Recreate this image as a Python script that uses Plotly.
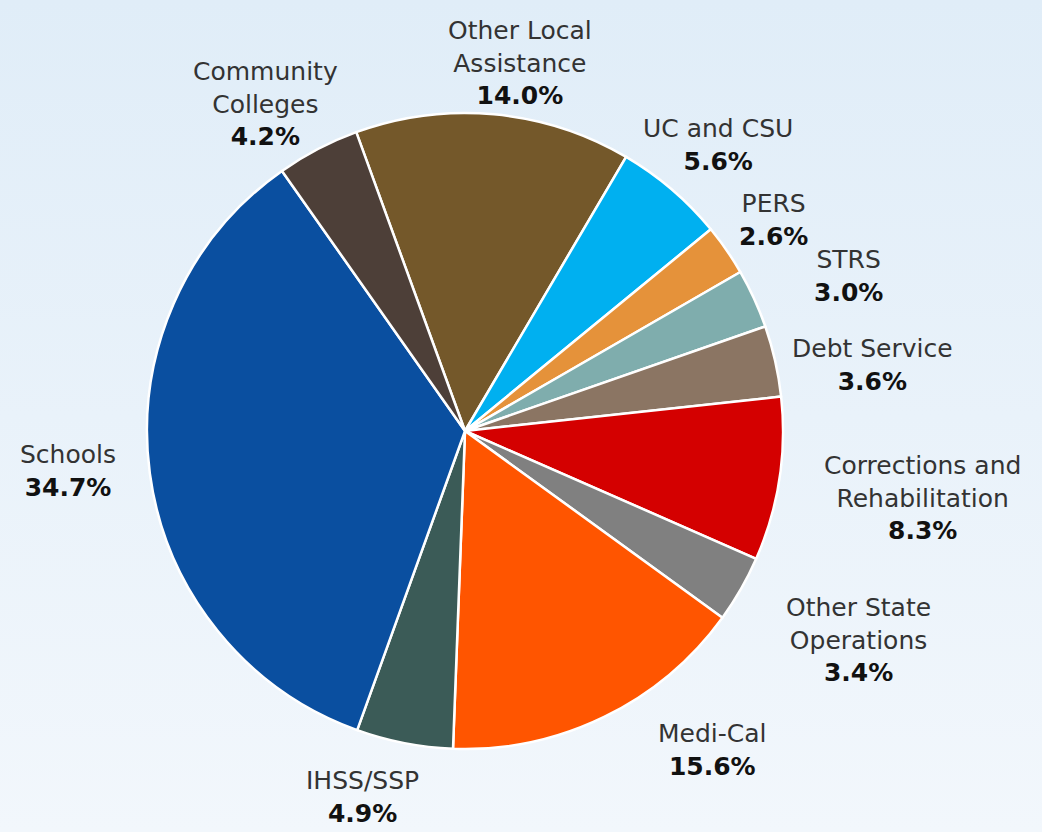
import base64
import plotly.graph_objects as go

# ---- data ----
categories = ["Other Local<br>Assistance", "UC and CSU", "PERS", "STRS", "Debt Service",
              "Corrections and<br>Rehabilitation", "Other State<br>Operations", "Medi-Cal",
              "IHSS/SSP", "Schools", "Community<br>Colleges"]
shares = [14.0, 5.6, 2.6, 3.0, 3.6, 8.3, 3.4, 15.6, 4.9, 34.7, 4.2]
colors = ["#74582a", "#00b0f0", "#e5923a", "#7fadad", "#8b7563", "#d40000",
          "#808080", "#ff5500", "#3b5b57", "#0a4fa0", "#4d3f38"]

# label anchor positions (pixels in the 1042x832 canvas)
label_pos = [(520, 63), (718, 145), (773, 220), (848, 276), (872, 365),
             (922, 498), (858, 640), (712, 750), (362, 797), (68, 471), (265, 104)]

W, H = 1042, 832
cx, cy, r = 465, 431, 318

fig = go.Figure(go.Pie(
    labels=[c.replace("<br>", " ") for c in categories],
    values=shares,
    sort=False,
    direction="clockwise",
    rotation=-20,
    marker=dict(colors=colors, line=dict(color="white", width=2.5)),
    textinfo="none",
    hoverinfo="label+value",
    domain=dict(x=[(cx - r) / W, (cx + r) / W], y=[1 - (cy + r) / H, 1 - (cy - r) / H]),
    showlegend=False,
))

for cat, val, (px, py) in zip(categories, shares, label_pos):
    fig.add_annotation(
        x=px / W, y=1 - py / H, xref="paper", yref="paper",
        text=f"{cat}<br><b><span style='color:#111111'>{val:.1f}%</span></b>",
        showarrow=False, align="center", xanchor="center", yanchor="middle",
        font=dict(family="Century Gothic, DejaVu Sans, sans-serif", size=25, color="#333333"),
    )

svg = (f'<svg xmlns="http://www.w3.org/2000/svg" width="{W}" height="{H}">'
       '<defs><linearGradient id="g" x1="0" y1="0" x2="0" y2="1">'
       '<stop offset="0" stop-color="#e0edf8"/><stop offset="1" stop-color="#f2f7fc"/>'
       '</linearGradient></defs>'
       f'<rect width="{W}" height="{H}" fill="url(#g)"/></svg>')
uri = "data:image/svg+xml;base64," + base64.b64encode(svg.encode()).decode()

fig.update_layout(
    width=W, height=H,
    margin=dict(l=0, r=0, t=0, b=0),
    paper_bgcolor="#e9f2fa",
    plot_bgcolor="rgba(0,0,0,0)",
    images=[dict(source=uri, xref="paper", yref="paper", x=0, y=1, sizex=1, sizey=1,
                 sizing="stretch", layer="below", xanchor="left", yanchor="top")],
)

fig.write_html("out.html",
               config={"displayModeBar": False},
               post_script="document.body.style.margin='0px';document.body.style.overflow='hidden';")
